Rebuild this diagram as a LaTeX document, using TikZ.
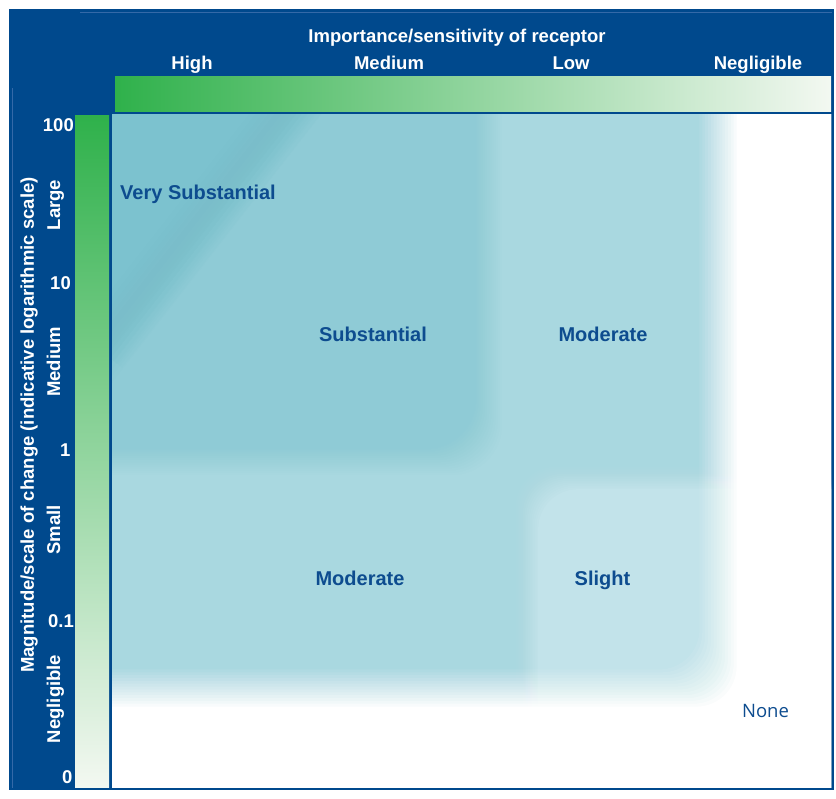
\documentclass[tikz,border=0pt]{standalone}
\usepackage{fontspec}
\setmainfont{Liberation Sans}
\newfontfamily\nonefont{Open Sans}
\definecolor{frameblue}{RGB}{0,73,141}
\definecolor{frameline}{RGB}{52,105,168}
\definecolor{txtblue}{RGB}{13,76,143}
\definecolor{gA}{RGB}{47,177,75}
\definecolor{gM}{RGB}{160,211,154}
\definecolor{gZ}{RGB}{243,248,241}
\definecolor{cVS}{RGB}{124,194,207}
\definecolor{cVSd}{RGB}{110,187,202}
\definecolor{cS}{RGB}{143,203,214}
\definecolor{cM}{RGB}{169,216,224}
\definecolor{cSl}{RGB}{194,227,234}
% soft-edged rounded box: colour, x1, y1, x2, y2, radius, blur top-left, blur bottom-right
\newcommand\softbox[8]{%
  \foreach \i in {1,...,14}{%
    \pgfmathsetmacro\op{1/(15-\i)}%
    \pgfmathsetmacro\ta{(\i-7.5)*#7/14}%
    \pgfmathsetmacro\tb{(\i-7.5)*#8/14}%
    \fill[#1,opacity=\op,rounded corners=#6] ({#2+\ta},{#3+\ta}) rectangle ({#4-\tb},{#5-\tb});
  }}
\tikzset{
  head/.style={font=\fontsize{18.5}{20}\selectfont\bfseries, text=white, inner sep=0pt},
  axislab/.style={head, rotate=90, anchor=base},
  numlab/.style={head, anchor=base east},
  cell/.style={font=\fontsize{20}{22}\selectfont\bfseries, text=txtblue, inner sep=0pt, anchor=base},
}
\begin{document}
\begin{tikzpicture}[x=1pt,y=-1pt]
\useasboundingbox (0,0) rectangle (836,799);
\fill[white] (0,0) rectangle (836,799);
% outer frame
\fill[frameblue] (9,9) rectangle (834,790);
\draw[frameline,line width=0.8pt] (80,12) -- (832,12);
\draw[frameline,line width=0.8pt] (12,88) -- (12,788);
% colour bars
\shade[left color=gA, middle color=gM, right color=gZ] (115,77) rectangle (831,112);
\shade[top color=gA, middle color=gM, bottom color=gZ] (75,116) rectangle (109,787);
% main field
\fill[white] (112,115) rectangle (831,787);
\begin{scope}
  \clip (112,115) rectangle (831,787);
  \fill[cM] (40,40) rectangle (800,760);
  \softbox{cSl}{527}{478}{900}{900}{40}{24}{0}
  \softbox{cS}{40}{40}{488}{461}{50}{0}{30}
  % very substantial corner
  \foreach \i in {1,...,14}{%
    \pgfmathsetmacro\op{1/(15-\i)}%
    \pgfmathsetmacro\s{(\i-7.5)*56/14}%
    \pgfmathsetmacro\sx{-0.789*\s}%
    \pgfmathsetmacro\sy{-0.616*\s}%
    \fill[cVS,opacity=\op] (0,0) -- ({379+\sx},{-2+\sy}) -- ({23+\sx},{454+\sy}) -- cycle;
  }
  \foreach \w in {56,46,36,26,16}{%
    \draw[cVSd,opacity=0.06,line width=\w pt] (300,95) -- (100,350);
  }
  % fade out to white at right and bottom
  \foreach \i in {1,...,14}{%
    \pgfmathsetmacro\op{1/(15-\i)}%
    \pgfmathsetmacro\tb{(\i-7.5)*40/14}%
    \fill[white,opacity=\op,even odd rule] (100,100) rectangle (840,800)
      [rounded corners=40] (0,0) rectangle ({718+\tb},{688+\tb});
  }
\end{scope}
% header texts
\node[head, anchor=base] (title) at (457,43) {Importance/sensitivity of receptor};
\node[head, anchor=base] (high) at (192,70) {High};
\node[head, anchor=base] (medium) at (389,70) {Medium};
\node[head, anchor=base] (low) at (571,70) {Low};
\node[head, anchor=base] (negl) at (758,70) {Negligible};
% vertical axis texts
\node[axislab] (ytitle) at (34,425) {Magnitude/scale of change (indicative logarithmic scale)};
\node[axislab] (large) at (60,205) {Large};
\node[axislab] (ymed) at (60,362) {Medium};
\node[axislab] (small) at (60,530) {Small};
\node[axislab] (ynegl) at (60,699) {Negligible};
\node[numlab] (n100) at (74,132) {100};
\node[numlab] (n10) at (71,290) {10};
\node[numlab] (n1) at (70.5,457) {1};
\node[numlab] (n01) at (74,627) {0.1};
\node[numlab] (n0) at (72.5,783) {0};
% cell labels
\node[cell, anchor=base west] (vs) at (120,200) {Very Substantial};
\node[cell] (subst) at (373,342) {Substantial};
\node[cell] (mod1) at (603,342) {Moderate};
\node[cell] (mod2) at (360,585) {Moderate};
\node[cell] (slight) at (602.5,586) {Slight};
\node[inner sep=0pt, anchor=base, text=txtblue, font=\nonefont\fontsize{18.5}{20}\selectfont] (none) at (765.5,717) {None};
\end{tikzpicture}
\end{document}
